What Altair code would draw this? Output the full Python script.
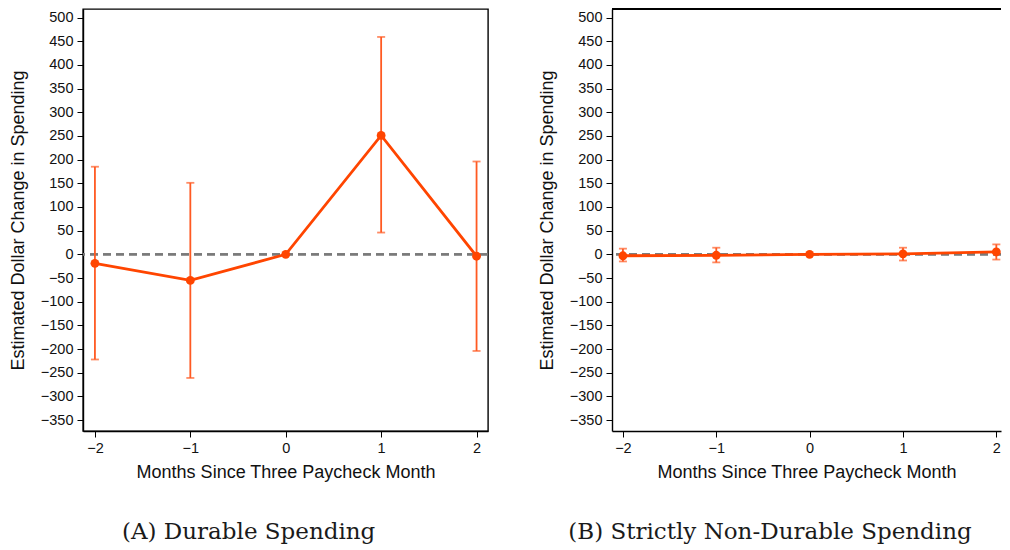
import altair as alt
import pandas as pd

months = [-2, -1, 0, 1, 2]
x_ticks = [-2, -1, 0, 1, 2]
y_ticks = list(range(-350, 501, 50))

durable_est = [-19, -55, 0, 251, -4]
durable_lo = [-222, -261, 0, 46, -204]
durable_hi = [185, 151, 0, 459, 196]

nondur_est = [-3, -2, 0, 1, 5]
nondur_lo = [-15, -17, 0, -13, -11]
nondur_hi = [12, 14, 0, 14, 21]

captions = ["(A) Durable Spending", "(B) Strictly Non-Durable Spending"]

ORANGE = "#ff4500"
BAR = "#ff5a22"
X_TITLE = "Months Since Three Paycheck Month"
Y_TITLE = "Estimated Dollar Change in Spending"


def panel(est, lo, hi, caption, xdom, width, full_frame):
    df = pd.DataFrame({"m": months, "est": est, "lo": lo, "hi": hi})
    xs = alt.Scale(domain=xdom, nice=False, zero=False)
    ys = alt.Scale(domain=[-373, 518], nice=False, zero=False)
    xax = alt.Axis(values=x_ticks, format="d", title=X_TITLE, titlePadding=9)
    yax = alt.Axis(values=y_ticks, format="d", title=Y_TITLE, titlePadding=13)
    X = alt.X("m:Q", scale=xs, axis=xax)

    base = alt.Chart(df)
    bars = base.transform_filter("datum.lo != datum.hi")

    zero = base.mark_rule(color="#7a7a7a", strokeDash=[8, 5], strokeWidth=1.6, clip=True).encode(
        y=alt.datum(0, scale=ys, axis=yax)
    )
    err = bars.mark_rule(color=BAR, strokeWidth=1.8, clip=True).encode(
        x=X, y=alt.Y("lo:Q", scale=ys, axis=yax), y2="hi:Q"
    )
    cap_lo = bars.mark_tick(color=BAR, orient="horizontal", size=8, thickness=1.8, clip=True).encode(
        x=X, y=alt.Y("lo:Q", scale=ys, axis=yax)
    )
    cap_hi = bars.mark_tick(color=BAR, orient="horizontal", size=8, thickness=1.8, clip=True).encode(
        x=X, y=alt.Y("hi:Q", scale=ys, axis=yax)
    )
    line = base.mark_line(color=ORANGE, strokeWidth=2.8, clip=True).encode(
        x=X, y=alt.Y("est:Q", scale=ys, axis=yax)
    )
    pts = base.mark_circle(color=ORANGE, size=78, opacity=1, clip=True).encode(
        x=X, y=alt.Y("est:Q", scale=ys, axis=yax)
    )
    layers = [zero, err, cap_lo, cap_hi, line, pts]
    if not full_frame:
        top = base.mark_rule(color="#000000", strokeWidth=1.4).encode(y=alt.value(0))
        layers.append(top)
    props = dict(
        width=width,
        height=422,
        title=alt.TitleParams(
            caption,
            orient="bottom",
            anchor="middle",
            frame="bounds",
            font="DejaVu Serif",
            fontSize=23,
            fontWeight="normal",
            color="#1a1a1a",
            offset=39,
        ),
    )
    if full_frame:
        props["view"] = alt.ViewBackground(stroke="#000000", strokeWidth=1.4)
    else:
        props["view"] = alt.ViewBackground(stroke=None)
    return alt.layer(*layers).properties(**props)


left = panel(durable_est, durable_lo, durable_hi, captions[0], [-2.125, 2.12], 405, True)
right = panel(nondur_est, nondur_lo, nondur_hi, captions[1], [-2.117, 2.05], 389, False)

chart = (
    alt.hconcat(left, right, spacing=49)
    .properties(padding={"left": 0, "top": 0, "right": 0, "bottom": 0})
    .configure_axis(
        grid=False,
        domain=True,
        domainColor="#000000",
        domainWidth=1.4,
        tickColor="#000000",
        tickSize=6,
        tickWidth=1,
        labelFont="Liberation Sans",
        labelFontSize=14.5,
        labelColor="#111111",
        labelPadding=4,
        titleFont="Liberation Sans",
        titleFontSize=18,
        titleFontWeight="normal",
        titleColor="#111111",
    )
)

chart.save("out.html", embed_options={"renderer": "svg", "actions": False})
